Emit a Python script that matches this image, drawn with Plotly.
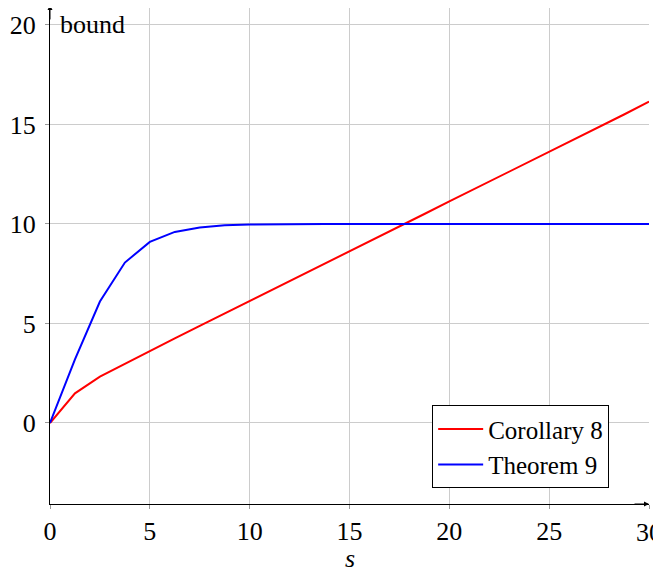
import plotly.graph_objects as go

s_values = [0, 1.25, 2.5, 3.75, 5, 6.25, 7.5, 8.75, 10, 11.25, 12.5, 13.75, 15,
            16.25, 17.5, 18.75, 20, 21.25, 22.5, 23.75, 25, 26.25, 27.5, 28.75, 30]
corollary8 = [0, 1.49, 2.33, 2.98, 3.62, 4.25, 4.88, 5.5, 6.13, 6.75, 7.38, 8.0, 8.63,
              9.25, 9.88, 10.5, 11.13, 11.75, 12.38, 13.0, 13.63, 14.25, 14.88, 15.5, 16.15]
theorem9 = [0, 3.2, 6.1, 8.06, 9.1, 9.6, 9.82, 9.93, 9.97, 9.99, 10.0, 10.0, 10.0,
            10.0, 10.0, 10.0, 10.0, 10.0, 10.0, 10.0, 10.0, 10.0, 10.0, 10.0, 10.0]
x_ticks = [0, 5, 10, 15, 20, 25, 30]
y_ticks = [0, 5, 10, 15, 20]

FONT = "Liberation Serif"
FS = 26

fig = go.Figure()
fig.add_trace(go.Scatter(x=s_values, y=corollary8, mode="lines", name="Corollary 8",
                         line=dict(color="#ff0000", width=2)))
fig.add_trace(go.Scatter(x=s_values, y=theorem9, mode="lines", name="Theorem 9",
                         line=dict(color="#0000ff", width=2)))

axis_common = dict(showgrid=True, gridcolor="#cccccc", gridwidth=1, zeroline=False,
                   showline=True, linecolor="black", linewidth=1,
                   ticks="outside", ticklen=4, tickcolor="#999999",
                   automargin=False,
                   tickfont=dict(family=FONT, size=FS, color="black"))

fig.update_layout(
    width=653, height=564,
    margin=dict(l=42, r=12, t=0, b=68, autoexpand=False),
    plot_bgcolor="white", paper_bgcolor="white",
    font=dict(family=FONT, size=FS, color="black"),
    xaxis=dict(range=[0, 30], tickvals=x_ticks, ticklabelstandoff=0, **axis_common),
    yaxis=dict(range=[-4.07, 20.85], tickvals=y_ticks, ticklabelstandoff=4, **axis_common),
    legend=dict(x=0.638, y=0.032, xanchor="left", yanchor="bottom",
                bgcolor="white", bordercolor="black", borderwidth=1,
                font=dict(family=FONT, size=25), tracegroupgap=0, itemwidth=45),
    showlegend=True,
)

# the last x tick label, which plotly would hide at the edge
fig.add_annotation(x=x_ticks[-1], y=0, xref="x", yref="paper", text=str(x_ticks[-1]),
                   showarrow=False, xanchor="center", yanchor="top", yshift=-12,
                   font=dict(family=FONT, size=FS))

# axis arrows
fig.add_annotation(x=30, y=-4.07, ax=29.2, ay=-4.07, xref="x", yref="y", axref="x", ayref="y",
                   showarrow=True, arrowhead=2, arrowsize=1, arrowwidth=1, arrowcolor="black", text="")
fig.add_annotation(x=0, y=21.0, ax=0, ay=20.2, xref="x", yref="y", axref="x", ayref="y",
                   showarrow=True, arrowhead=2, arrowsize=1, arrowwidth=1, arrowcolor="black", text="")

fig.add_annotation(x=0, y=20, xref="x", yref="y", text="bound", showarrow=False,
                   xanchor="left", yanchor="middle", xshift=8,
                   font=dict(family=FONT, size=FS))
fig.add_annotation(x=15, y=0, xref="x", yref="paper", text="<i>s</i>", showarrow=False,
                   xanchor="center", yanchor="middle", yshift=-54,
                   font=dict(family=FONT, size=FS))

fig.write_html("out.html")
